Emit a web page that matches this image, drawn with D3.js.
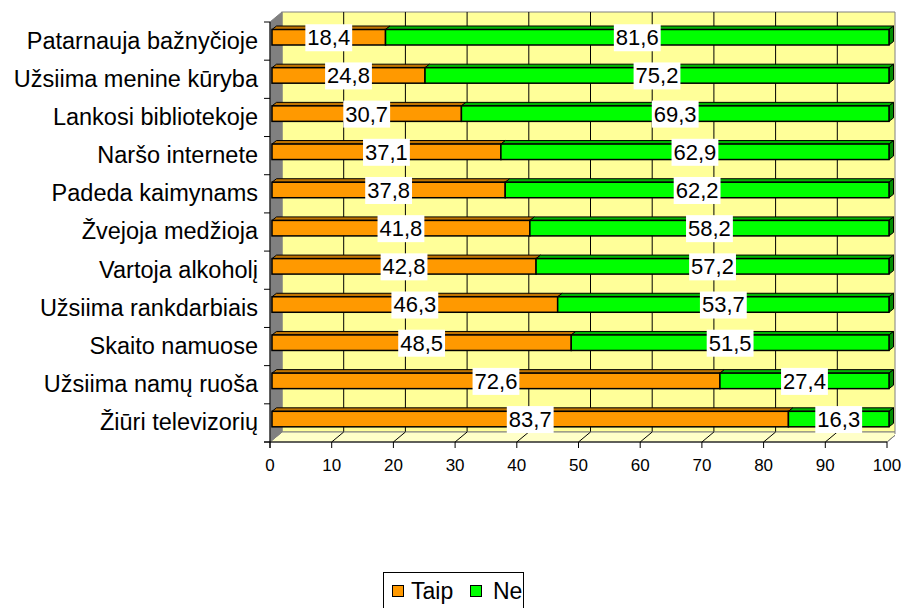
<!DOCTYPE html>
<html>
<head>
<meta charset="utf-8">
<script src="https://cdn.jsdelivr.net/npm/d3@7"></script>
<style>
  body { margin: 0; background: #fff; }
  text { font-family: "Liberation Sans", Arial, sans-serif; fill: #000; }
</style>
</head>
<body>
<svg id="chart" width="905" height="608"></svg>
<script>
// data
var categories = ["Patarnauja bažnyčioje", "Užsiima menine kūryba", "Lankosi bibliotekoje",
  "Naršo internete", "Padeda kaimynams", "Žvejoja medžioja", "Vartoja alkoholį",
  "Užsiima rankdarbiais", "Skaito namuose", "Užsiima namų ruoša", "Žiūri televizorių"];
var taip = [18.4, 24.8, 30.7, 37.1, 37.8, 41.8, 42.8, 46.3, 48.5, 72.6, 83.7];
var ne   = [81.6, 75.2, 69.3, 62.9, 62.2, 58.2, 57.2, 53.7, 51.5, 27.4, 16.3];
var xTicks = [0, 10, 20, 30, 40, 50, 60, 70, 80, 90, 100];
var seriesNames = ["Taip", "Ne"];

var Config = {
  Left: 270, Right: 887, Top: 22, Bottom: 442,
  DepthX: 12, DepthY: -10,      // wall depth
  BarDx: 2,                     // bar front face offset into depth
  BarTopOff: 7.5, BarHeight: 15.5,
  BarDepthX: 4.5, BarDepthY: -3.5,
  ClipRight: 895
};
var colors = {
  Taip: { front: "#FF9900", top: "#C07400", side: "#A06000" },
  Ne:   { front: "#00FF00", top: "#00B400", side: "#008C00" }
};

var svg = d3.select("#chart");
var fmt = function (v) { return v.toFixed(1).replace(".", ","); };

var x = d3.scaleLinear().domain([0, 100]).range([Config.Left, Config.Right]);
var y = d3.scaleBand().domain(categories).range([Config.Top, Config.Bottom]);

svg.append("clipPath").attr("id", "plotclip")
  .append("rect").attr("x", 0).attr("y", 0).attr("width", Config.ClipRight).attr("height", 608);

var plot = svg.append("g").attr("clip-path", "url(#plotclip)");

// back wall
var bx0 = x(0) + Config.DepthX, bx1 = x(100) + Config.DepthX;
var by0 = Config.Top + Config.DepthY, by1 = Config.Bottom + Config.DepthY;
plot.append("rect")
  .attr("x", bx0).attr("y", by0).attr("width", bx1 - bx0).attr("height", by1 - by0)
  .attr("fill", "#FFFF99").attr("stroke", "#808080");

// gridlines on back wall
plot.selectAll(".grid").data(xTicks.slice(1, -1)).enter().append("line")
  .attr("x1", function (d) { return x(d) + Config.DepthX; })
  .attr("x2", function (d) { return x(d) + Config.DepthX; })
  .attr("y1", by0).attr("y2", by1)
  .attr("stroke", "#000").attr("stroke-width", 1);

// floor
plot.append("polygon")
  .attr("points", [[x(0), Config.Bottom], [bx0, by1], [bx1, by1], [x(100), Config.Bottom]].join(" "))
  .attr("fill", "#FFFFC8").attr("stroke", "#808080");

plot.selectAll(".floorline").data(xTicks.slice(1)).enter().append("line")
  .attr("x1", function (d) { return x(d); })
  .attr("y1", Config.Bottom)
  .attr("x2", function (d) { return x(d) + Config.DepthX; })
  .attr("y2", by1)
  .attr("stroke", function (d) { return d === 100 ? "#808080" : "#000"; });

// right edge of plot area
svg.append("line")
  .attr("x1", Config.ClipRight).attr("x2", Config.ClipRight)
  .attr("y1", by0).attr("y2", by1 + 2)
  .attr("stroke", "#808080");

// left wall
svg.append("polygon")
  .attr("points", [[x(0), Config.Top], [bx0, by0], [bx0, by1], [x(0), Config.Bottom]].join(" "))
  .attr("fill", "#808080").attr("stroke", "#808080");

// axes
svg.append("line").attr("x1", x(0)).attr("x2", x(0))
  .attr("y1", Config.Top).attr("y2", Config.Bottom + 6).attr("stroke", "#000");
svg.append("line").attr("x1", x(0) - 6).attr("x2", x(100))
  .attr("y1", Config.Bottom).attr("y2", Config.Bottom).attr("stroke", "#000");

// category ticks at band edges
var edges = categories.map(function (c) { return y(c); }).concat([Config.Bottom]);
svg.selectAll(".ytick").data(edges).enter().append("line")
  .attr("x1", x(0) - 6).attr("x2", x(0))
  .attr("y1", function (d) { return d; }).attr("y2", function (d) { return d; })
  .attr("stroke", "#000");

svg.selectAll(".xtick").data(xTicks).enter().append("line")
  .attr("x1", function (d) { return x(d); }).attr("x2", function (d) { return x(d); })
  .attr("y1", Config.Bottom).attr("y2", Config.Bottom + 6)
  .attr("stroke", "#000");

svg.selectAll(".xlabel").data(xTicks).enter().append("text")
  .attr("x", function (d) { return x(d); })
  .attr("y", 471)
  .attr("text-anchor", "middle")
  .style("font-size", "17px")
  .text(function (d) { return d; });

svg.selectAll(".ylabel").data(categories).enter().append("text")
  .attr("x", 258)
  .attr("y", function (d) { return y(d) + y.bandwidth() / 2 - 1; })
  .attr("dy", "0.36em")
  .attr("text-anchor", "end")
  .style("font-size", "23.5px")
  .text(function (d) { return d; });

// bars
var segments = [];
categories.forEach(function (c, i) {
  segments.push({ cat: c, name: "Taip", s: 0, e: taip[i], v: taip[i], last: false });
  segments.push({ cat: c, name: "Ne", s: taip[i], e: taip[i] + ne[i], v: ne[i], last: true });
});

function bx(v) { return x(v) + Config.BarDx; }
var bars = svg.append("g");
segments.forEach(function (d) {
  var x0 = bx(d.s), x1 = bx(d.e);
  var yt = y(d.cat) + Config.BarTopOff, yb = yt + Config.BarHeight;
  var dx = Config.BarDepthX, dy = Config.BarDepthY;
  var col = colors[d.name];
  bars.append("polygon")
    .attr("points", [[x0, yt], [x1, yt], [x1 + dx, yt + dy], [x0 + dx, yt + dy]].join(" "))
    .attr("fill", col.top).attr("stroke", "#000").attr("stroke-width", 1);
  if (d.last) {
    bars.append("polygon")
      .attr("points", [[x1, yt], [x1 + dx, yt + dy], [x1 + dx, yb + dy], [x1, yb]].join(" "))
      .attr("fill", col.side).attr("stroke", "#000").attr("stroke-width", 1);
  }
  bars.append("rect")
    .attr("x", x0).attr("y", yt).attr("width", x1 - x0).attr("height", yb - yt)
    .attr("fill", col.front).attr("stroke", "#000").attr("stroke-width", 1.5);
});

// data labels
var labels = svg.append("g");
segments.forEach(function (d) {
  var cx = (bx(d.s) + bx(d.e)) / 2;
  var cy = y(d.cat) + Config.BarTopOff + Config.BarHeight / 2;
  var g = labels.append("g");
  var t = g.append("text")
    .attr("x", cx).attr("y", cy).attr("dy", "0.36em")
    .attr("text-anchor", "middle")
    .style("font-size", "22px")
    .text(fmt(d.v));
  var w = t.node().getComputedTextLength();
  g.insert("rect", "text")
    .attr("x", cx - w / 2 - 2).attr("y", cy - 13)
    .attr("width", w + 4).attr("height", 27)
    .attr("fill", "#fff");
});

// legend
var legend = svg.append("g");
legend.append("rect")
  .attr("x", 383.5).attr("y", 572.5).attr("width", 140).attr("height", 40)
  .attr("fill", "#fff").attr("stroke", "#000");
var legX = [392, 470], legTextX = [411, 493];
seriesNames.forEach(function (n, i) {
  legend.append("rect")
    .attr("x", legX[i] + 0.5).attr("y", 585.5).attr("width", 11).attr("height", 11)
    .attr("fill", colors[n].front).attr("stroke", "#000");
  legend.append("text")
    .attr("x", legTextX[i]).attr("y", 591).attr("dy", "0.36em")
    .style("font-size", "23px")
    .text(n);
});
</script>
</body>
</html>
